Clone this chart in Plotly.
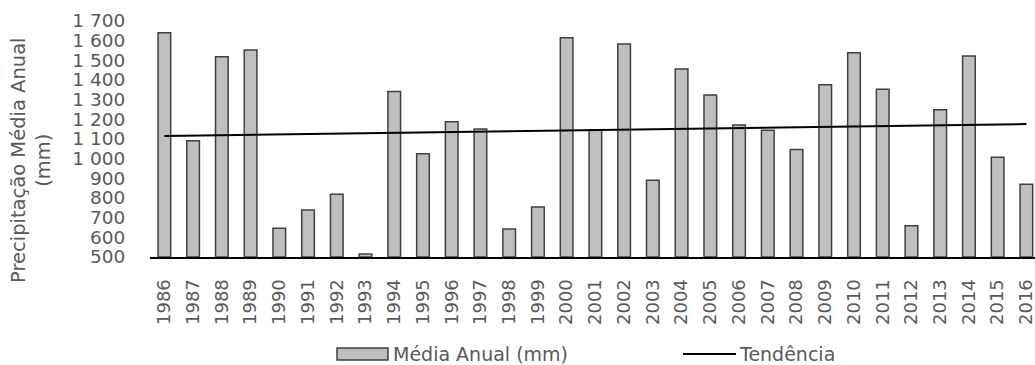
import plotly.graph_objects as go

years = list(range(1986, 2017))
media_anual = [1640, 1091, 1518, 1553, 646, 739, 819, 515, 1341, 1025,
               1188, 1151, 642, 754, 1615, 1146, 1583, 890, 1456, 1324,
               1171, 1144, 1046, 1376, 1539, 1353, 659, 1249, 1522, 1007, 870]
trend_years = [1986, 2016]
trend_values = [1115, 1176]
y_ticks = [500, 600, 700, 800, 900, 1000, 1100, 1200, 1300, 1400, 1500, 1600, 1700]
y_tick_labels = ["500", "600", "700", "800", "900", "1 000", "1 100", "1 200",
                 "1 300", "1 400", "1 500", "1 600", "1 700"]

W, H = 1035, 365
L, R, T, B = 150, 0, 21, 108
pw, ph = W - L - R, H - T - B

def px(x):
    return (x - L) / pw

def py(y):
    return (H - B - y) / ph

FONT = "DejaVu Sans, Verdana, sans-serif"
GRAY = "#595959"

fig = go.Figure()
fig.add_trace(go.Bar(
    x=years, y=[v - 500 for v in media_anual], base=500, width=0.44,
    marker=dict(color="#BFBFBF", line=dict(color="#404040", width=1.5)),
    name="Média Anual (mm)", showlegend=False,
))
fig.add_trace(go.Scatter(
    x=trend_years, y=trend_values, mode="lines",
    line=dict(color="black", width=2), name="Tendência", showlegend=False,
))

fig.update_layout(
    width=W, height=H,
    margin=dict(l=L, r=R, t=T, b=B),
    paper_bgcolor="white", plot_bgcolor="white",
    font=dict(family=FONT, size=18, color=GRAY),
    xaxis=dict(
        range=[1985.5, 2016.3], tickvals=years, ticktext=[str(y) for y in years],
        tickangle=-90, showgrid=False, zeroline=False,
        showline=True, linecolor="black", linewidth=2,
        ticks="outside", ticklen=13, tickcolor="rgba(0,0,0,0)",
        tickfont=dict(size=18, color=GRAY), ticklabeloverflow="allow",
    ),
    yaxis=dict(
        range=[500, 1700], tickvals=y_ticks, ticktext=y_tick_labels,
        showgrid=False, zeroline=False, showline=False,
        ticks="outside", ticklen=20, tickcolor="rgba(0,0,0,0)",
        tickfont=dict(size=18.5, color=GRAY),
    ),
    showlegend=False,
)

# Y-axis title
fig.add_annotation(
    text="Precipitação Média Anual<br>(mm)", textangle=-90,
    xref="paper", yref="paper", x=px(31), y=py(160),
    xanchor="center", yanchor="middle", showarrow=False,
    font=dict(size=19.5, color=GRAY, family=FONT),
)

# Custom legend
ly = 354
fig.add_shape(type="rect", xref="paper", yref="paper",
              x0=px(337), x1=px(388), y0=py(360), y1=py(348),
              fillcolor="#BFBFBF", line=dict(color="#404040", width=1.5))
fig.add_annotation(text="Média Anual (mm)", xref="paper", yref="paper",
                   x=px(391), y=py(ly), xanchor="left", yanchor="middle",
                   showarrow=False, font=dict(size=19, color=GRAY, family=FONT))
fig.add_shape(type="line", xref="paper", yref="paper",
              x0=px(683), x1=px(736), y0=py(ly), y1=py(ly),
              line=dict(color="black", width=2))
fig.add_annotation(text="Tendência", xref="paper", yref="paper",
                   x=px(737), y=py(ly), xanchor="left", yanchor="middle",
                   showarrow=False, font=dict(size=19, color=GRAY, family=FONT))

fig.write_html(
    "out.html",
    config={"displayModeBar": False},
    post_script="document.body.style.margin='0px';document.body.style.overflow='hidden';",
)
